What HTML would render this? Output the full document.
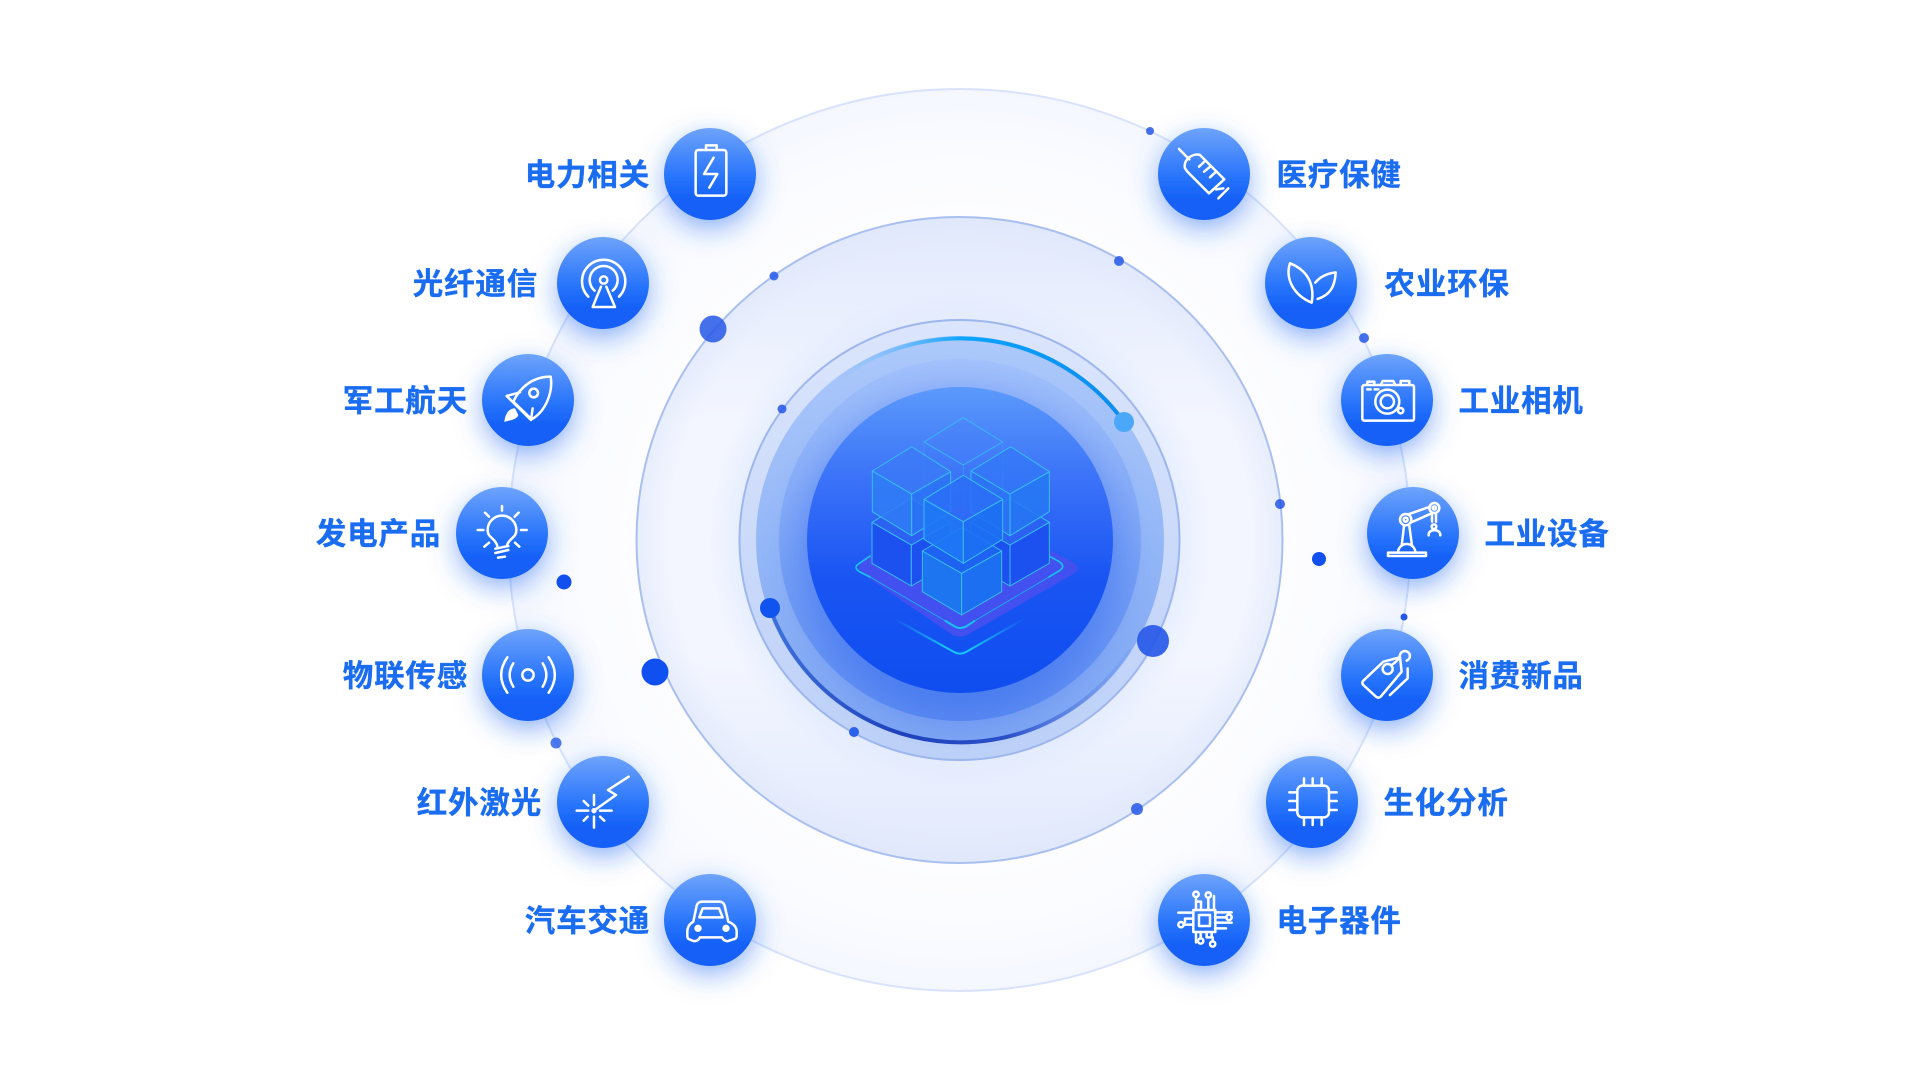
<!DOCTYPE html>
<html lang="zh-CN">
<head>
<meta charset="utf-8">
<title>应用领域</title>
<style>
html,body{margin:0;padding:0;background:#fff;width:1920px;height:1080px;overflow:hidden}
svg{display:block}
text{font-family:"Liberation Sans","Noto Sans CJK SC",sans-serif;font-weight:700;font-size:30.5px;letter-spacing:.8px;fill:#1a6cf1;stroke:#1a6cf1;stroke-width:.35px;dominant-baseline:central}
.i *{fill:none;stroke:#fff;stroke-width:7.5;stroke-linecap:round;stroke-linejoin:round}
.i .f{fill:#fff;stroke:none}
.c polygon{stroke:#38bdf2;stroke-width:3;stroke-linejoin:round}
</style>
</head>
<body>
<svg width="1920" height="1080" viewBox="0 0 1920 1080" xmlns="http://www.w3.org/2000/svg">
<defs>
<radialGradient id="o" gradientUnits="userSpaceOnUse" cx="959.5" cy="540" r="451">
<stop offset=".72" stop-color="#fdfdff"/><stop offset=".88" stop-color="#f9fbff"/><stop offset="1" stop-color="#f5f7ff"/>
</radialGradient>
<radialGradient id="m" gradientUnits="userSpaceOnUse" cx="959.5" cy="540" r="323">
<stop offset=".68" stop-color="#e6eefe"/><stop offset=".78" stop-color="#f3f6ff"/><stop offset=".9" stop-color="#f3f6ff"/><stop offset="1" stop-color="#e7edfc"/>
</radialGradient>
<linearGradient id="mv" x1="0" y1="0" x2="0" y2="1"><stop offset="0" stop-color="#dfe7fc" stop-opacity=".85"/><stop offset=".32" stop-color="#dfe7fc" stop-opacity="0"/><stop offset=".68" stop-color="#dfe7fc" stop-opacity="0"/><stop offset="1" stop-color="#dfe7fc" stop-opacity=".85"/></linearGradient>
<linearGradient id="r1" x1="0" y1="0" x2="0" y2="1"><stop offset="0" stop-color="#dbe5fc"/><stop offset="1" stop-color="#bcd0f8"/></linearGradient>
<linearGradient id="r2" x1="0" y1="0" x2="0" y2="1"><stop offset="0" stop-color="#adc9fb"/><stop offset="1" stop-color="#7da5f3"/></linearGradient>
<linearGradient id="r3" x1="0" y1="0" x2="0" y2="1"><stop offset="0" stop-color="#a3c1fb"/><stop offset=".55" stop-color="#7aa3f6"/><stop offset="1" stop-color="#5f8df1"/></linearGradient>
<linearGradient id="core" x1="0" y1="0" x2="0" y2="1"><stop offset="0" stop-color="#5b9afb"/><stop offset=".3" stop-color="#3b72f8"/><stop offset=".62" stop-color="#1a55f3"/><stop offset="1" stop-color="#0f4df0"/></linearGradient>
<linearGradient id="n" x1="0" y1="0" x2="0" y2="1"><stop offset="0" stop-color="#6ea3fb"/><stop offset=".55" stop-color="#2673fb"/><stop offset=".8" stop-color="#135ef7"/><stop offset="1" stop-color="#135ef7"/></linearGradient>
<linearGradient id="a1" gradientUnits="userSpaceOnUse" x1="830" y1="0" x2="1124" y2="0"><stop offset="0" stop-color="#7fbcfb" stop-opacity="0"/><stop offset=".45" stop-color="#0aa4fd"/><stop offset="1" stop-color="#0b8cee"/></linearGradient>
<linearGradient id="a2" gradientUnits="userSpaceOnUse" x1="770" y1="0" x2="1135" y2="0"><stop offset="0" stop-color="#3f72dc"/><stop offset=".35" stop-color="#1e41bc"/><stop offset=".65" stop-color="#2a50c8"/><stop offset="1" stop-color="#6d97ee" stop-opacity=".2"/></linearGradient>
<linearGradient id="chev" gradientUnits="userSpaceOnUse" x1="580" y1="0" x2="975" y2="0"><stop offset="0" stop-color="#17c4f5" stop-opacity="0"/><stop offset=".4" stop-color="#17c4f5"/><stop offset=".6" stop-color="#17c4f5"/><stop offset="1" stop-color="#17c4f5" stop-opacity="0"/></linearGradient>
<filter id="s" x="-60%" y="-60%" width="220%" height="230%"><feDropShadow dx="0" dy="9" stdDeviation="13" flood-color="#1a68f0" flood-opacity=".5"/></filter>
<filter id="g" x="-30%" y="-30%" width="160%" height="160%"><feGaussianBlur stdDeviation="18"/></filter>
</defs>

<rect width="1920" height="1080" fill="#fff"/>

<circle cx="959.5" cy="540" r="451" fill="url(#o)" stroke="#d8e3fb" stroke-width="2"/>
<circle cx="959.5" cy="540" r="323" fill="url(#m)"/>
<circle cx="959.5" cy="540" r="323" fill="url(#mv)" stroke="#a8bff0" stroke-width="2"/>
<circle cx="959.5" cy="540" r="220" fill="url(#r1)" stroke="#9db6ee" stroke-width="2"/>
<circle cx="960" cy="540" r="204" fill="url(#r2)"/>
<circle cx="960" cy="540" r="181" fill="url(#r3)"/>
<circle cx="960" cy="556" r="160" fill="#2a62ee" opacity=".45" filter="url(#g)"/>
<circle cx="960" cy="540" r="153" fill="url(#core)"/>

<path d="M830 386 A202 202 0 0 1 1124 422" fill="none" stroke="url(#a1)" stroke-width="4"/>
<path d="M770 608 A202 202 0 0 0 1130 650" fill="none" stroke="url(#a2)" stroke-width="4"/>

<!-- isometric cubes traced in 3x zoom space -->
<g transform="translate(700 290) scale(.33333)">
<path d="M500 860 Q450 830 500 800 L760 650 Q785 640 810 650 L1115 815 Q1150 835 1115 855 L810 1030 Q780 1050 750 1030 Z" fill="#4750ee" opacity=".9"/>
<path d="M512 797 L478 820 Q458 832 478 845 L512 862" fill="none" stroke="#17c4f5" stroke-width="5"/>
<path d="M512 862 L735 992" fill="none" stroke="#17b4f5" stroke-width="2.5"/>
<path d="M735 992 L765 1010 Q780 1018 797 1010 L825 992" fill="none" stroke="#17c4f5" stroke-width="6"/>
<path d="M825 992 L1045 862" fill="none" stroke="#17b4f5" stroke-width="2.5"/>
<path d="M1045 862 L1078 842 Q1098 830 1078 815 L1050 800" fill="none" stroke="#17c4f5" stroke-width="5"/>
<path d="M580 985 L760 1085 Q780 1097 800 1085 L975 985" fill="none" stroke="url(#chev)" stroke-width="6"/>

<g class="c">
<polygon points="672,456 790,525 790,680 672,620" fill="#3f7df8" fill-opacity=".15" stroke-opacity=".25"/>
<polygon points="908,456 790,525 790,680 908,620" fill="#3f7df8" fill-opacity=".15" stroke-opacity=".25"/>
<polygon points="672,456 790,383 908,456 790,525" fill="#4480f8" fill-opacity=".3" stroke="#5aa8f5" stroke-opacity=".9"/>

<polygon points="516,697 634,765 634,888 516,820" fill="#1c50ef"/>
<polygon points="634,765 752,697 752,820 634,888" fill="#1c50ef"/>
<polygon points="516,697 634,625 752,697 634,765" fill="#2b62f2"/>
<polygon points="1048,697 930,765 930,888 1048,820" fill="#1c50ef"/>
<polygon points="930,765 812,697 812,820 930,888" fill="#1c50ef"/>
<polygon points="1048,697 930,625 812,697 930,765" fill="#2b62f2"/>

<polygon points="517,543 635,612 635,737 517,665" fill="#2f7cf6" fill-opacity=".85"/>
<polygon points="752,545 635,612 635,737 752,665" fill="#2b74f4" fill-opacity=".85"/>
<polygon points="517,543 635,470 752,545 635,612" fill="#3a7bf6" fill-opacity=".7"/>
<polygon points="1048,545 930,612 930,737 1048,665" fill="#2678f3" fill-opacity=".85"/>
<polygon points="813,543 930,612 930,737 813,665" fill="#2b74f4" fill-opacity=".85"/>
<polygon points="813,543 932,470 1048,545 930,612" fill="#3277f6" fill-opacity=".7"/>

<polygon points="667,783 785,850 785,975 667,905" fill="#1d75ef"/>
<polygon points="905,783 785,850 785,975 905,905" fill="#1c6ff0"/>
<polygon points="667,783 787,712 905,783 785,850" fill="#1d62f1"/>

<polygon points="672,628 790,695 790,820 672,748" fill="#1f78f5" fill-opacity=".9"/>
<polygon points="908,628 790,695 790,820 908,748" fill="#1d70f3" fill-opacity=".9"/>
<polygon points="672,628 790,556 908,628 790,695" fill="#2c6ef6" fill-opacity=".85"/>
</g>
</g>

<!-- floating dots -->
<g>
<circle cx="713" cy="329" r="13.5" fill="#2457e8" opacity=".85"/>
<circle cx="774" cy="276" r="4.5" fill="#2457e8" opacity=".85"/>
<circle cx="782" cy="409" r="4.5" fill="#2457e8" opacity=".85"/>
<circle cx="564" cy="582" r="7.5" fill="#1150ef"/>
<circle cx="1124" cy="422" r="10" fill="#4ba8f8"/>
<circle cx="770" cy="608" r="10" fill="#1153ee"/>
<circle cx="1153" cy="641" r="16" fill="#2457e8" opacity=".9"/>
<circle cx="854" cy="732" r="5" fill="#2a60ea"/>
<circle cx="655" cy="672" r="13.5" fill="#1150f0"/>
<circle cx="556" cy="743" r="5.5" fill="#2457e8" opacity=".8"/>
<circle cx="1150" cy="131" r="4" fill="#2457e8" opacity=".85"/>
<circle cx="1119" cy="261" r="5" fill="#2457e8" opacity=".85"/>
<circle cx="1364" cy="338" r="5" fill="#2457e8" opacity=".85"/>
<circle cx="1280" cy="504" r="5" fill="#2457e8" opacity=".85"/>
<circle cx="1319" cy="559" r="7" fill="#1150ef"/>
<circle cx="1404" cy="617" r="3.5" fill="#2457e8"/>
<circle cx="1137" cy="809" r="6" fill="#2457e8" opacity=".85"/>
</g>

<!-- nodes -->
<g fill="url(#n)" filter="url(#s)"><circle cx="710" cy="174" r="46"/></g>
<g fill="url(#n)" filter="url(#s)"><circle cx="603" cy="283" r="46"/></g>
<g fill="url(#n)" filter="url(#s)"><circle cx="528" cy="400" r="46"/></g>
<g fill="url(#n)" filter="url(#s)"><circle cx="502" cy="533" r="46"/></g>
<g fill="url(#n)" filter="url(#s)"><circle cx="528" cy="675" r="46"/></g>
<g fill="url(#n)" filter="url(#s)"><circle cx="603" cy="802" r="46"/></g>
<g fill="url(#n)" filter="url(#s)"><circle cx="710" cy="920" r="46"/></g>
<g fill="url(#n)" filter="url(#s)"><circle cx="1204" cy="174" r="46"/></g>
<g fill="url(#n)" filter="url(#s)"><circle cx="1311" cy="283" r="46"/></g>
<g fill="url(#n)" filter="url(#s)"><circle cx="1387" cy="400" r="46"/></g>
<g fill="url(#n)" filter="url(#s)"><circle cx="1413" cy="533" r="46"/></g>
<g fill="url(#n)" filter="url(#s)"><circle cx="1387" cy="675" r="46"/></g>
<g fill="url(#n)" filter="url(#s)"><circle cx="1312" cy="802" r="46"/></g>
<g fill="url(#n)" filter="url(#s)"><circle cx="1204" cy="920" r="46"/></g>

<!-- left-top icons -->
<g class="i" transform="translate(300 100) scale(.33333)">
<rect x="1187" y="150" width="92" height="137" rx="8"/>
<path d="M1218 150V136H1250V150"/>
<path d="M1241 173L1212 222H1252L1228 263"/>
<path d="M865 590A65 65 0 1 1 957 590"/>
<path d="M884 572A42 42 0 1 1 938 572"/>
<circle cx="911" cy="540" r="11"/>
<path d="M903 560L878 621H945L919 560"/>
<path d="M752 830C700 830 660 860 640 905L695 958C735 935 760 880 752 830Z"/>
<circle cx="701" cy="879" r="13"/>
<path d="M660 877L620 888L693 960L698 925"/>
<path class="f" d="M613 966C615 945 625 925 645 925L655 945C650 960 630 960 613 966Z"/>
<path d="M592 1338C585 1312 563 1315 563 1290A43 43 0 1 1 649 1290C649 1315 628 1312 620 1338"/>
<path d="M586 1346L625 1338M586 1359L625 1350M594 1373L615 1370"/>
<path d="M606 1218V1232M555 1238L567 1250M656 1238L644 1250M533 1290H550M663 1290H680M553 1340L567 1328M658 1340L645 1328"/>
</g>

<!-- left-bottom icons -->
<g class="i" transform="translate(300 580) scale(.33333)">
<circle cx="684" cy="285" r="17"/>
<path d="M640 250Q618 285 640 320M728 250Q750 285 728 320"/>
<path d="M622 232Q585 285 622 338M746 232Q783 285 746 338"/>
<circle class="f" cx="882" cy="692" r="8"/>
<path d="M882 645V675M882 710V743M830 692H865M900 692H935M851 663L865 677M851 722L863 710M913 722L900 710M882 692L948 645L924 630L986 590"/>
<path d="M1180 1025L1190 977Q1194 965 1207 965H1258Q1270 965 1274 977L1285 1025Q1310 1035 1310 1055V1068Q1310 1076 1300 1078L1285 1083Q1272 1085 1266 1072H1200Q1194 1085 1180 1083L1168 1078Q1162 1076 1162 1068V1055Q1162 1035 1180 1025Z"/>
<path d="M1198 1012L1208 985H1257L1268 1012Z"/>
<circle class="f" cx="1194" cy="1045" r="11"/>
<circle class="f" cx="1278" cy="1045" r="11"/>
</g>

<!-- right-top icons -->
<g class="i" transform="translate(1130 100) scale(.33333)">
<path d="M147 147L178 178"/>
<path d="M165 205C158 180 188 158 210 165L283 238L237 280L172 215Z"/>
<path d="M207 200L225 183M222 215L243 198M240 232L258 215"/>
<path d="M258 268L280 265M295 265L265 295"/>
<path d="M480 490C530 510 555 550 545 608C490 585 465 535 480 490Z"/>
<path d="M556 548C572 527 595 520 617 517C615 560 600 585 563 597"/>
<rect x="697" y="855" width="155" height="107" rx="6"/>
<path d="M712 855V845H733V855M752 855L758 843H790L796 855M812 855V843H838V855"/>
<circle cx="772" cy="905" r="36"/>
<circle cx="772" cy="905" r="20"/>
<circle cx="812" cy="932" r="8"/>
<path d="M712 868H722M734 868H745"/>
<rect x="774" y="1358" width="114" height="10"/>
<path d="M804 1358A26 26 0 0 1 856 1358"/>
<path d="M815 1337L822 1278M838 1278L846 1337"/>
<circle cx="827" cy="1259" r="17"/><circle cx="827" cy="1259" r="6"/>
<path d="M835 1243L900 1220M842 1268L905 1240"/>
<circle cx="913" cy="1224" r="15"/><circle cx="913" cy="1224" r="5"/>
<path d="M906 1242V1265M918 1242V1265"/>
<circle cx="912" cy="1280" r="7"/>
<path d="M896 1306C894 1285 932 1285 931 1306"/>
</g>

<!-- right-bottom icons -->
<g class="i" transform="translate(1130 580) scale(.33333)">
<path d="M700 302L760 245L810 232L815 275L752 350Q745 356 738 350L700 315Q694 308 700 302Z"/>
<circle cx="773" cy="267" r="15"/>
<path d="M785 255C800 245 808 235 810 225A15 15 0 1 1 830 242"/>
<path d="M833 265V295L780 345"/>
<rect x="502" y="617" width="95" height="95" rx="15"/>
<path d="M522 595V617M548 595V617M575 595V617M522 712V735M548 712V735M575 712V735M478 637H502M478 663H502M478 690H502M597 637H620M597 663H620M597 690H620"/>
<g style="stroke-width:6">
<rect x="190" y="990" width="66" height="66"/>
<rect x="207" y="1005" width="33" height="33"/>
<circle cx="198" cy="943" r="8"/><circle cx="235" cy="945" r="8"/>
<path d="M198 951V965H213V990M235 953V990M198 965V990M252 948V990"/>
<path d="M145 998H190M190 1016H165V1026M161 1034H190"/>
<circle cx="153" cy="1034" r="8"/>
<path d="M255 997H305M255 1012H290M255 1028H305M255 1045H288"/>
<circle cx="297" cy="1012" r="8"/>
<path d="M198 1056V1087M212 1056V1075M230 1056V1072H248V1084M245 1056V1068"/>
<circle cx="212" cy="1083" r="8"/><circle cx="248" cy="1092" r="8"/>
</g>
</g>

<!-- labels -->
<g text-anchor="end">
<text x="650" y="175.5">电力相关</text>
<text x="538" y="284.5">光纤通信</text>
<text x="468" y="401.5">军工航天</text>
<text x="441" y="534.5">发电产品</text>
<text x="468" y="676.5">物联传感</text>
<text x="542" y="803.5">红外激光</text>
<text x="650" y="921.5">汽车交通</text>
</g>
<g>
<text x="1276.5" y="175.5">医疗保健</text>
<text x="1384.5" y="284.5">农业环保</text>
<text x="1458.5" y="401.5">工业相机</text>
<text x="1484.5" y="534.5">工业设备</text>
<text x="1458.5" y="676.5">消费新品</text>
<text x="1383.5" y="803.5">生化分析</text>
<text x="1276.5" y="921.5">电子器件</text>
</g>
</svg>
</body>
</html>
